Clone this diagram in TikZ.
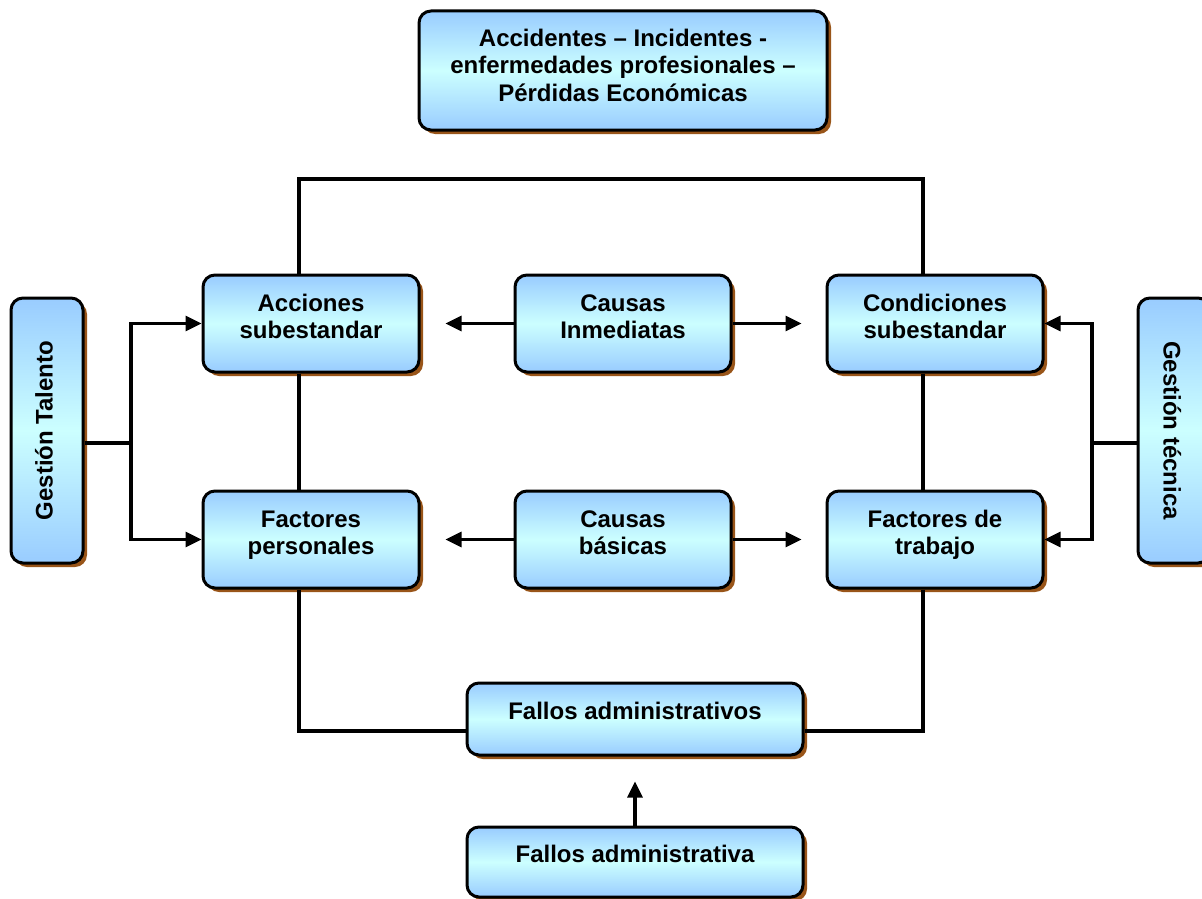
\documentclass[tikz,border=0pt]{standalone}
\usepackage{fontspec}
\setmainfont{Liberation Sans}
\usetikzlibrary{arrows.meta,shadows}

\definecolor{boxedge}{RGB}{153,204,255}
\definecolor{boxmid}{RGB}{204,255,255}
\definecolor{shadowc}{RGB}{153,85,25}

\tikzset{
  box/.style={rectangle, rounded corners=12pt, draw=black, line width=3pt,
    top color=boxedge, bottom color=boxedge, middle color=boxmid,
    drop shadow={shadow xshift=4pt, shadow yshift=-4pt, fill=shadowc, opacity=1},
    inner sep=0pt},
  midbox/.style={box, minimum width=216pt, minimum height=97pt},
  txt/.style={align=center, inner sep=0pt,
    font=\bfseries\fontsize{24}{27.5}\selectfont,
    execute at begin node=\rule{0pt}{18pt},
    execute at end node=\rule[-5pt]{0pt}{5pt}},
  conn/.style={line width=3.2pt, draw=black},
  arr/.style={conn, -{Triangle[length=16pt,width=15pt]}},
}

\begin{document}
\begin{tikzpicture}[x=1pt,y=-1pt]
\useasboundingbox (0,0) rectangle (1202,899);
\clip (0,0) rectangle (1202,899);

% outcome box
\node[box, minimum width=408pt, minimum height=119pt] (top) at (623,70.5) {};
\node[txt] (top-t) at ([yshift=3pt]top.center)
  {Accidentes – Incidentes -\\enfermedades profesionales –\\Pérdidas Económicas};

% immediate causes row
\node[midbox] (acc) at (311,323.5) {};
\node[midbox] (ci) at (623,323.5) {};
\node[midbox] (cond) at (935,323.5) {};
\node[txt] (acc-t) at ([yshift=4.5pt]acc.center) {Acciones\\subestandar};
\node[txt] (ci-t) at ([yshift=4.5pt]ci.center) {Causas\\Inmediatas};
\node[txt] (cond-t) at ([yshift=4.5pt]cond.center) {Condiciones\\subestandar};

% basic causes row
\node[midbox] (fp) at (311,539.5) {};
\node[midbox] (cb) at (623,539.5) {};
\node[midbox] (ft) at (935,539.5) {};
\node[txt] (fp-t) at ([yshift=4.5pt]fp.center) {Factores\\personales};
\node[txt] (cb-t) at ([yshift=4.5pt]cb.center) {Causas\\básicas};
\node[txt] (ft-t) at ([yshift=4.5pt]ft.center) {Factores de\\trabajo};

% administrative failures
\node[box, minimum width=336pt, minimum height=72pt] (fa) at (635,719) {};
\node[txt] (fa-t) at ([yshift=6pt]fa.center) {Fallos administrativos};
\node[box, minimum width=336pt, minimum height=70pt] (fad) at (635,862) {};
\node[txt] (fad-t) at ([yshift=6pt]fad.center) {Fallos administrativa};

% side management boxes
\node[box, minimum width=72pt, minimum height=265pt] (gt) at (47,430.5) {};
\node[txt, rotate=90] (gt-t) at ([xshift=-1pt]gt.center) {Gestión Talento};
\node[box, minimum width=72pt, minimum height=265pt] (gtec) at (1174,430.5) {};
\node[txt, rotate=-90] (gtec-t) at ([xshift=-4pt]gtec.center) {Gestión técnica};

% outer loop linking the two immediate causes
\coordinate (ytop) at (0,179);
\draw[conn] ([xshift=-12pt]acc.north) -- ([xshift=-12pt]acc.north |- ytop)
  -- ([xshift=-12pt]cond.north |- ytop) -- ([xshift=-12pt]cond.north);

% vertical links between rows
\draw[conn] ([xshift=-12pt]acc.south) -- ([xshift=-12pt]fp.north);
\draw[conn] ([xshift=-12pt]cond.south) -- ([xshift=-12pt]ft.north);

% links down to administrative failures
\draw[conn] ([xshift=-12pt]fp.south) |- ([yshift=-12pt]fa.west);
\draw[conn] ([xshift=-12pt]ft.south) |- ([yshift=-12pt]fa.east);

% causes pointing to their two sides
\draw[arr] (ci.west) -- ([xshift=25pt]acc.east);
\draw[arr] (ci.east) -- ([xshift=-24pt]cond.west);
\draw[arr] (cb.west) -- ([xshift=25pt]fp.east);
\draw[arr] (cb.east) -- ([xshift=-24pt]ft.west);

% talent management branch
\coordinate (jl) at (131,443);
\draw[conn] ([yshift=-12.5pt]gt.east) -- (jl);
\draw[arr] (jl) |- (acc.west);
\draw[arr] (jl) |- (fp.west);

% technical management branch
\coordinate (jr) at (1092,443);
\draw[conn] ([yshift=-12.5pt]gtec.west) -- (jr);
\draw[arr] (jr) |- (cond.east);
\draw[arr] (jr) |- (ft.east);

% upward arrow
\draw[arr] (fad.north) -- ([yshift=-25pt]fa.south);
\end{tikzpicture}
\end{document}
